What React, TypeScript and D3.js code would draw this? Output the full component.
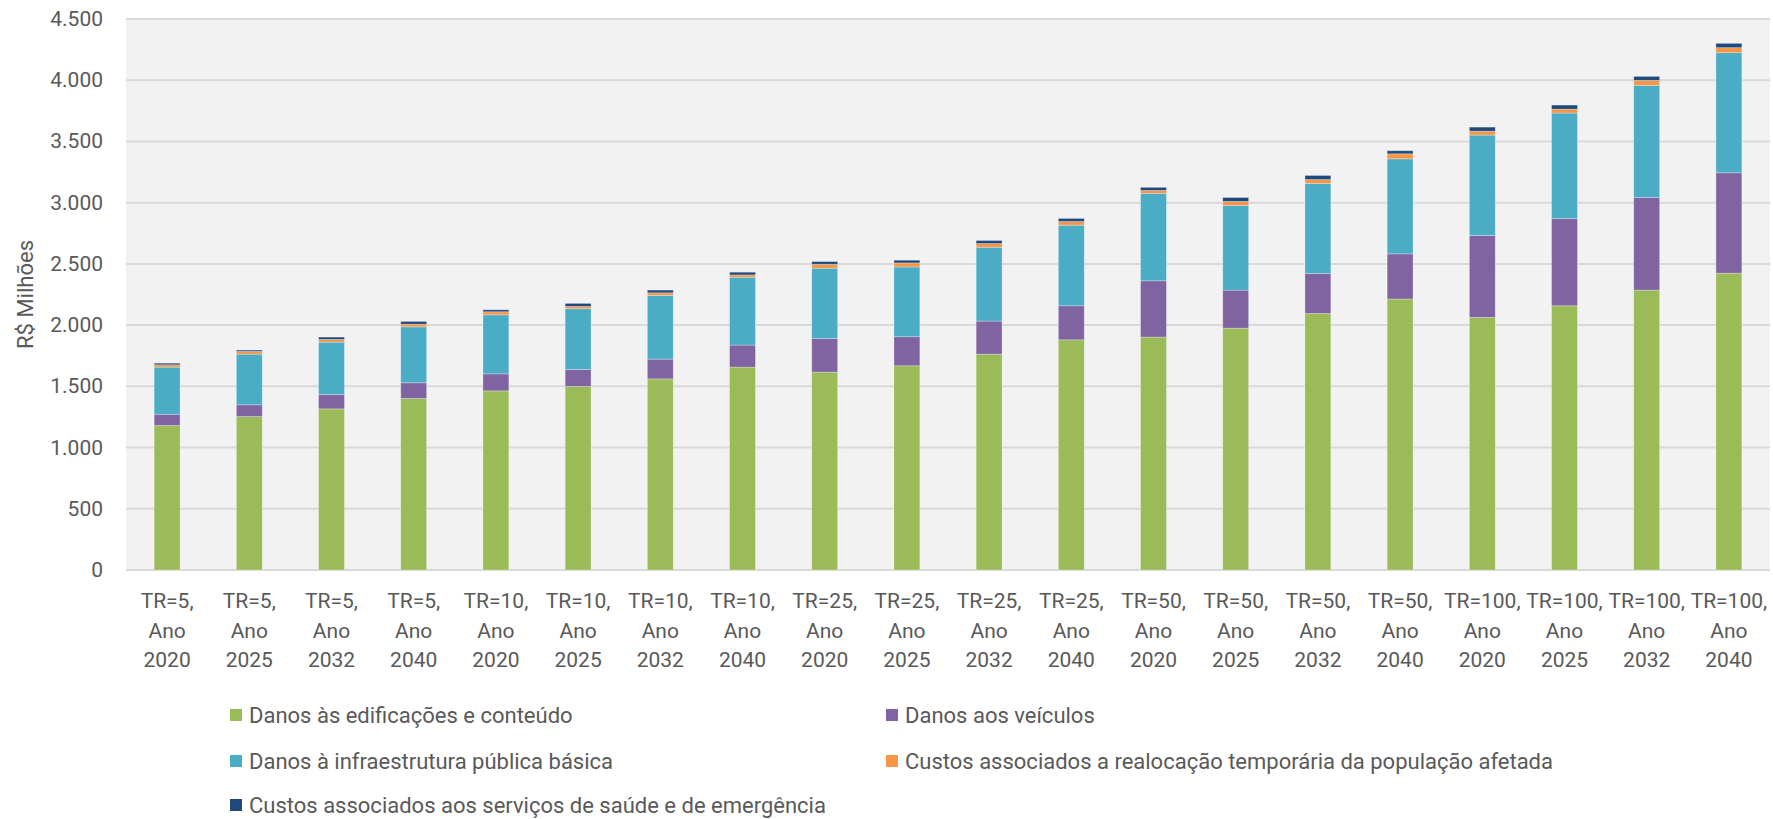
import React from "react";
import * as d3 from "d3";

const WIDTH = 1773;
const HEIGHT = 819;
const MARGIN = { top: 19, right: 3, bottom: 249, left: 126 };

const returnPeriods = ["TR=5,", "TR=5,", "TR=5,", "TR=5,", "TR=10,", "TR=10,", "TR=10,", "TR=10,", "TR=25,", "TR=25,", "TR=25,", "TR=25,", "TR=50,", "TR=50,", "TR=50,", "TR=50,", "TR=100,", "TR=100,", "TR=100,", "TR=100,"];
const years = ["2020", "2025", "2032", "2040", "2020", "2025", "2032", "2040", "2020", "2025", "2032", "2040", "2020", "2025", "2032", "2040", "2020", "2025", "2032", "2040"];

const edificacoes = [1180, 1253, 1316, 1401, 1463, 1499, 1561, 1657, 1616, 1668, 1763, 1880, 1902, 1975, 2095, 2213, 2063, 2158, 2286, 2424];
const veiculos = [92, 96, 117, 128, 139, 139, 161, 180, 275, 237, 270, 278, 460, 311, 326, 369, 669, 713, 756, 820];
const infraestrutura = [385, 414, 428, 457, 482, 496, 521, 554, 574, 570, 603, 658, 714, 691, 736, 776, 820, 861, 916, 981];
const realocacao = [19, 22, 22, 22, 25, 19, 21, 19, 32, 33, 30, 30, 24, 33, 32, 41, 32, 32, 41, 41];
const saude = [13, 11, 19, 22, 16, 24, 22, 22, 22, 22, 25, 25, 25, 32, 33, 25, 33, 33, 32, 35];

const seriesNames = [
  "Danos às edificações e conteúdo",
  "Danos aos veículos",
  "Danos à infraestrutura pública básica",
  "Custos associados a realocação temporária da população afetada",
  "Custos associados aos serviços de saúde e de emergência",
];
const seriesColors = ["#9BBB59", "#8064A2", "#4BACC6", "#F79646", "#1F497D"];
const yTicks = [0, 500, 1000, 1500, 2000, 2500, 3000, 3500, 4000, 4500];

const FONT = "Roboto, 'Open Sans', sans-serif";
const TEXT_COLOR = "#595959";

const ptBR = d3.formatLocale({ decimal: ",", thousands: ".", grouping: [3], currency: ["R$", ""] });
const fmt = ptBR.format(",d");

export default function App() {
  const boundsWidth = WIDTH - MARGIN.left - MARGIN.right;
  const boundsHeight = HEIGHT - MARGIN.top - MARGIN.bottom;

  const rows = returnPeriods.map((tr, i) => ({
    key: i,
    tr,
    year: years[i],
    s0: edificacoes[i],
    s1: veiculos[i],
    s2: infraestrutura[i],
    s3: realocacao[i],
    s4: saude[i],
  }));
  const keys = ["s0", "s1", "s2", "s3", "s4"];
  const stacked = d3.stack<any>().keys(keys)(rows);

  const xScale = d3
    .scaleBand<number>()
    .domain(rows.map((r) => r.key))
    .range([0, boundsWidth])
    .paddingInner(0.685)
    .paddingOuter(0.3425);

  const yScale = d3.scaleLinear().domain([0, 4500]).range([boundsHeight, 0]);

  // legend: two columns, three rows
  const legendCols = [230, 886];
  const legendRows = [715, 761, 805];

  return (
    <svg width={WIDTH} height={HEIGHT} style={{ position: "absolute", left: 0, top: 0 }} fontFamily={FONT}>
      <rect width={WIDTH} height={HEIGHT} fill="#ffffff" />
      <g transform={`translate(${MARGIN.left},${MARGIN.top})`}>
        <rect width={boundsWidth} height={boundsHeight} fill="#F2F2F2" />
        {yTicks.map((t) => (
          <g key={t}>
            <line x1={0} x2={boundsWidth} y1={yScale(t)} y2={yScale(t)} stroke="#D9D9D9" strokeWidth={2} />
            <text
              x={-23}
              y={yScale(t)}
              textAnchor="end"
              dominantBaseline="central"
              fontSize={21}
              fill={TEXT_COLOR}
            >
              {fmt(t)}
            </text>
          </g>
        ))}
        {stacked.map((layer, si) => (
          <g key={layer.key} fill={seriesColors[si]}>
            {layer.map((d, i) => (
              <rect
                key={i}
                x={xScale(i)}
                width={xScale.bandwidth()}
                y={yScale(d[1])}
                height={yScale(d[0]) - yScale(d[1])}
                stroke="#ffffff"
                strokeOpacity={0.35}
                strokeWidth={0.8}
              />
            ))}
          </g>
        ))}
        {rows.map((r) => {
          const cx = (xScale(r.key) ?? 0) + xScale.bandwidth() / 2;
          return (
            <text key={r.key} x={cx} textAnchor="middle" fontSize={21} fill={TEXT_COLOR} dominantBaseline="central">
              <tspan x={cx} y={boundsHeight + 31}>{r.tr}</tspan>
              <tspan x={cx} y={boundsHeight + 61}>Ano</tspan>
              <tspan x={cx} y={boundsHeight + 90}>{r.year}</tspan>
            </text>
          );
        })}
      </g>
      <text
        transform={`translate(25,${MARGIN.top + boundsHeight / 2}) rotate(-90)`}
        textAnchor="middle"
        dominantBaseline="central"
        fontSize={22}
        fill={TEXT_COLOR}
      >
        R$ Milhões
      </text>
      {seriesNames.map((name, i) => {
        const lx = legendCols[i % 2];
        const ly = legendRows[Math.floor(i / 2)];
        return (
          <g key={name} transform={`translate(${lx},${ly})`}>
            <rect x={0} y={-6} width={12} height={12} fill={seriesColors[i]} />
            <text x={19} y={0} dominantBaseline="central" fontSize={22} fill={TEXT_COLOR}>
              {name}
            </text>
          </g>
        );
      })}
    </svg>
  );
}
